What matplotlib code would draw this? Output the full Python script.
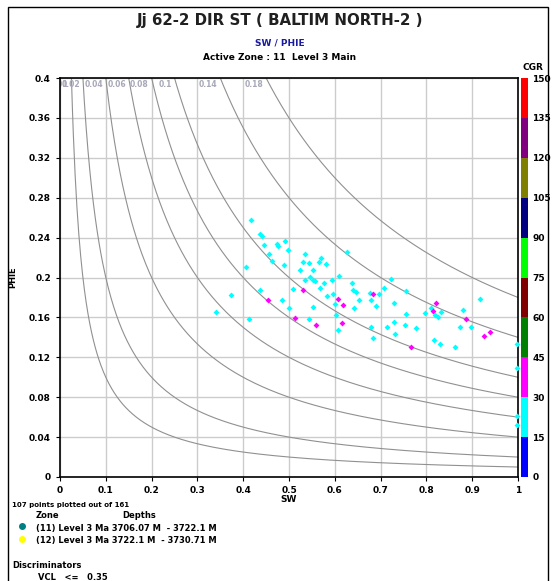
import numpy as np
import matplotlib
matplotlib.use('Agg')
import matplotlib.pyplot as plt
from matplotlib.colors import ListedColormap, BoundaryNorm
from matplotlib.patches import Rectangle
import matplotlib.colorbar as mcolorbar

# bulk volume water lines (SW * PHIE = const)
bvw_values = [0.01, 0.02, 0.04, 0.06, 0.08, 0.1, 0.14, 0.18]

# zone 11 points, CGR 15-30 (cyan)
sw_cyan = [0.416, 0.437, 0.440, 0.445, 0.473, 0.477, 0.492, 0.498, 0.457, 0.462,
           0.489, 0.406, 0.534, 0.530, 0.544, 0.569, 0.566, 0.581, 0.626, 0.523,
           0.552, 0.546, 0.535, 0.552, 0.557, 0.568, 0.576, 0.594, 0.610, 0.637,
           0.640, 0.646, 0.722, 0.707, 0.677, 0.697, 0.756, 0.373, 0.437, 0.509,
           0.485, 0.501, 0.582, 0.597, 0.600, 0.652, 0.680, 0.691, 0.643, 0.553,
           0.603, 0.341, 0.413, 0.544, 0.606, 0.730, 0.756, 0.797, 0.811, 0.819,
           0.826, 0.831, 0.881, 0.918, 0.729, 0.713, 0.753, 0.777, 0.731, 0.680,
           0.683, 0.873, 0.897, 0.817, 0.830, 0.863, 0.998, 0.998, 0.998, 0.998]
phie_cyan = [0.258, 0.2436, 0.242, 0.2326, 0.2336, 0.232, 0.237, 0.228, 0.224, 0.217,
             0.2125, 0.2105, 0.224, 0.2155, 0.2148, 0.2195, 0.216, 0.214, 0.2258, 0.208,
             0.208, 0.2008, 0.197, 0.197, 0.196, 0.189, 0.194, 0.197, 0.2015, 0.194,
             0.187, 0.185, 0.198, 0.189, 0.184, 0.183, 0.1865, 0.182, 0.187, 0.188,
             0.1775, 0.169, 0.181, 0.183, 0.1734, 0.177, 0.177, 0.1714, 0.169, 0.170,
             0.1624, 0.1654, 0.158, 0.158, 0.147, 0.174, 0.163, 0.1647, 0.169, 0.1624,
             0.1607, 0.1657, 0.1674, 0.178, 0.1557, 0.150, 0.1527, 0.149, 0.143, 0.150,
             0.139, 0.150, 0.150, 0.1373, 0.1333, 0.1306, 0.1336, 0.109, 0.061, 0.052]

# CGR 30-45 (magenta)
sw_mag = [0.455, 0.530, 0.608, 0.617, 0.684, 0.514, 0.560, 0.615, 0.821, 0.815,
          0.886, 0.926, 0.939, 0.766]
phie_mag = [0.1775, 0.187, 0.178, 0.172, 0.1835, 0.159, 0.152, 0.1547, 0.1747, 0.1667,
            0.158, 0.1413, 0.1454, 0.1306]

cgr_bounds = [0, 15, 30, 45, 60, 75, 90, 105, 120, 135, 150]
cgr_colors = ['#0000ff', '#00ffff', '#ff00ff', '#008000', '#800000',
              '#00ff00', '#000080', '#808000', '#800080', '#ff0000']

fig = plt.figure(figsize=(5.6, 5.81), dpi=100)
fig.patches.append(Rectangle((8/560, -0.01), 540/560, 1 - 7/581 + 0.01,
                             transform=fig.transFigure, fill=False, ec='black', lw=1))

ax = fig.add_axes([60/560, 1 - 477/581, 458/560, 399/581])
ax.set_xlim(0, 1)
ax.set_ylim(0, 0.4)
ax.set_xticks(np.arange(0, 1.01, 0.1))
ax.set_yticks(np.arange(0, 0.401, 0.04))
ax.set_xticklabels(['%g' % round(v, 2) for v in np.arange(0, 1.01, 0.1)])
ax.set_yticklabels(['%g' % round(v, 2) for v in np.arange(0, 0.401, 0.04)])
ax.tick_params(labelsize=6.5, length=3, width=0.8)
for lab in ax.get_xticklabels() + ax.get_yticklabels():
    lab.set_fontweight('bold')
ax.grid(True, color='#cccccc', lw=1)
ax.set_axisbelow(True)
for s in ax.spines.values():
    s.set_linewidth(1.2)

sw = np.linspace(0.001, 1, 500)
for b in bvw_values:
    ax.plot(sw, b / sw, color='#909090', lw=0.8, zorder=1)
    # labels sit just left of where each line leaves the top; the first ones get cut/overlap
    ax.text(b / 0.4 - 0.006, 0.398, '%g' % b, ha='right', va='top', fontsize=5.5,
            fontweight='bold', color='#a8a8b8', zorder=2, clip_on=True)

ax.scatter(sw_cyan, phie_cyan, s=9, marker='D', color=cgr_colors[1], lw=0, zorder=3, clip_on=False)
ax.scatter(sw_mag, phie_mag, s=9, marker='D', color=cgr_colors[2], lw=0, zorder=4)

ax.set_xlabel('SW', fontsize=6.5, fontweight='bold', labelpad=0)
ax.set_ylabel('PHIE', fontsize=6, fontweight='bold', labelpad=8)

cax = fig.add_axes([521/560, 1 - 477/581, 7/560, 399/581])
cmap = ListedColormap(cgr_colors)
norm = BoundaryNorm(cgr_bounds, cmap.N)
cb = mcolorbar.ColorbarBase(cax, cmap=cmap, norm=norm, ticks=cgr_bounds)
cb.outline.set_visible(False)
cax.tick_params(labelsize=6.5, length=0, pad=3)
for lab in cax.get_yticklabels():
    lab.set_fontweight('bold')
fig.text(533/560, 1 - 68/581, 'CGR', fontsize=6.5, fontweight='bold', ha='center', va='center')

fig.text(0.5, 1 - 20/581, 'Jj 62-2 DIR ST ( BALTIM NORTH-2 )', fontsize=10.8,
         fontweight='bold', ha='center', va='center', color='#202020')
fig.text(0.5, 1 - 43/581, 'SW / PHIE', fontsize=6.5, fontweight='bold', ha='center',
         va='center', color='#1a1aa0')
fig.text(0.5, 1 - 58/581, 'Active Zone : 11  Level 3 Main', fontsize=6.5, fontweight='bold',
         ha='center', va='center')

fig.text(12/560, 1 - 505/581, '107 points plotted out of 161', fontsize=5, fontweight='bold',
         va='center')
fig.text(36/560, 1 - 516/581, 'Zone', fontsize=6, fontweight='bold', va='center')
fig.text(122/560, 1 - 516/581, 'Depths', fontsize=6, fontweight='bold', va='center')
fig.text(36/560, 1 - 528/581, '(11) Level 3 Ma 3706.07 M  - 3722.1 M', fontsize=6,
         fontweight='bold', va='center')
fig.text(36/560, 1 - 540/581, '(12) Level 3 Ma 3722.1 M  - 3730.71 M', fontsize=6,
         fontweight='bold', va='center')
fig.add_artist(plt.Line2D([22/560], [1 - 526/581], marker='o', color='#008080', ms=4,
                          transform=fig.transFigure))
fig.add_artist(plt.Line2D([22/560], [1 - 539/581], marker='o', color='#ffff00', ms=4,
                          transform=fig.transFigure))
fig.text(12/560, 1 - 565/581, 'Discriminators', fontsize=6, fontweight='bold', va='center')
fig.text(38/560, 1 - 578/581, 'VCL   <=   0.35', fontsize=6, fontweight='bold', va='center')

fig.savefig('out.png', dpi=100)
